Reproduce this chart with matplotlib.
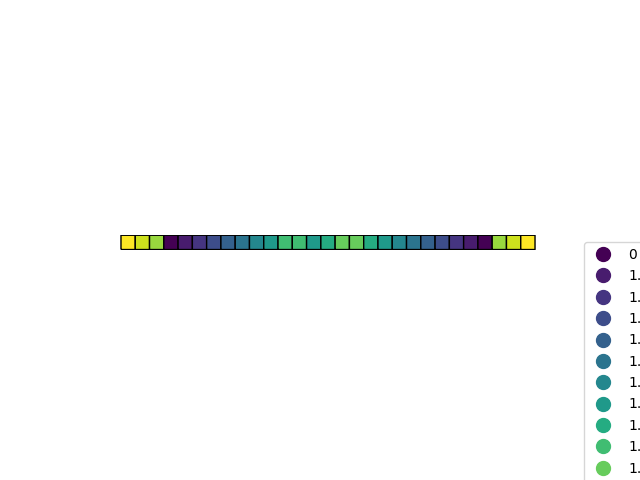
import matplotlib
matplotlib.use("Agg")
import matplotlib.pyplot as plt
import numpy as np
from matplotlib.lines import Line2D

# category index of each cell in the strip
cells = [13, 12, 11, 0, 1, 2, 3, 4, 5, 6, 7, 9, 9, 7, 8, 10, 10, 8, 7, 6, 5, 4, 3, 2, 1, 0, 11, 12, 13]
# legend labels for the categories (0 .. 13)
labels = ["0", "1.0", "1.1", "1.2", "1.3", "1.4", "1.5", "1.6", "1.7", "1.8", "1.9", "2.0", "2.1", "2.2"]

n_cat = len(labels)
cmap = plt.get_cmap("viridis")

fig, ax = plt.subplots(figsize=(6.4, 4.8), dpi=100)
data = np.array([cells])
xe = np.arange(len(cells) + 1) - 0.5
ye = np.array([-0.5, 0.5])
mesh = ax.pcolormesh(xe, ye, data, cmap=cmap, vmin=0, vmax=n_cat - 1,
                     edgecolors="black", linewidth=1.0, antialiased=True)
mesh.set_snap(False)
ax.set_aspect("equal")
ax.set_xlim(-3.37, 31.37)
ax.set_ylim(-0.5, 0.5)
ax.axis("off")

handles = [Line2D([], [], marker="o", linestyle="none", markersize=10,
                  color=cmap(i / (n_cat - 1))) for i in range(n_cat)]
ax.legend(handles, labels, loc="upper left", bbox_to_anchor=(1.016, 0.5),
          borderaxespad=0, labelspacing=0.53)

fig.savefig("out.png", dpi=100)
